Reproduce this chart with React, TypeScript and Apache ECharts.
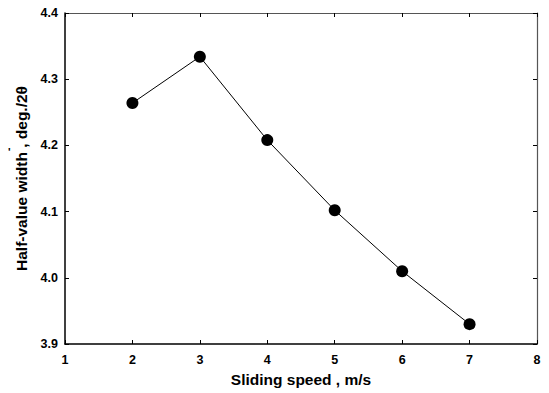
import React, { useEffect, useRef } from "react";
import * as echarts from "echarts";

const speeds = [2, 3, 4, 5, 6, 7];
const halfWidth = [4.264, 4.334, 4.208, 4.102, 4.01, 3.93];
const xTitle = "Sliding speed , m/s";
const yTitle = "Half-value width , deg./2θ";

export default function App() {
  const ref = useRef<HTMLDivElement>(null);
  useEffect(() => {
    const chart = echarts.init(ref.current!, null, { renderer: "svg" });
    const font = "'Liberation Sans', Arial, sans-serif";
    const axisCommon = {
      type: "value" as const,
      interval: 1,
      axisLine: { show: true, lineStyle: { color: "#000", width: 1.5 } },
      axisTick: { show: true, inside: true, length: 4, lineStyle: { color: "#000", width: 1 } },
      splitLine: { show: false },
    };
    chart.setOption({
      animation: false,
      backgroundColor: "#fff",
      grid: { left: 65, right: 12, top: 13, bottom: 49, containLabel: false },
      xAxis: [
        {
          ...axisCommon,
          min: 1,
          max: 8,
          position: "bottom",
          name: xTitle,
          nameLocation: "middle",
          nameGap: 27,
          nameTextStyle: { fontFamily: font, fontWeight: "bold", fontSize: 15.5, color: "#000" },
          axisLabel: { fontFamily: font, fontWeight: "bold", fontSize: 12.5, color: "#000", margin: 9 },
        },
        {
          ...axisCommon,
          min: 1,
          max: 8,
          position: "top",
          axisLine: { show: true, lineStyle: { color: "#555", width: 1.2 } },
          axisLabel: { show: false },
        },
      ],
      yAxis: [
        {
          ...axisCommon,
          interval: 0.1,
          min: 3.9,
          max: 4.4,
          position: "left",
          name: yTitle,
          nameLocation: "middle",
          nameGap: 35,
          nameTextStyle: { fontFamily: font, fontWeight: "bold", fontSize: 15.5, color: "#000" },
          axisLabel: {
            fontFamily: font,
            fontWeight: "bold",
            fontSize: 12.5,
            color: "#000",
            margin: 7,
            formatter: (v: number) => v.toFixed(1),
          },
        },
        {
          ...axisCommon,
          interval: 0.1,
          min: 3.9,
          max: 4.4,
          position: "right",
          axisLine: { show: true, lineStyle: { color: "#555", width: 1.2 } },
          axisLabel: { show: false },
        },
      ],
      graphic: [
        {
          type: "text",
          left: 8,
          top: 146,
          style: { text: "'", fontFamily: font, fontSize: 11, fontWeight: "bold", fill: "#000" },
        },
      ],
      series: [
        {
          type: "line",
          data: speeds.map((s, i) => [s, halfWidth[i]]),
          symbol: "circle",
          symbolSize: 12,
          lineStyle: { color: "#000", width: 1 },
          itemStyle: { color: "#000" },
        },
      ],
    });
    return () => chart.dispose();
  }, []);
  return <div ref={ref} style={{ width: 549, height: 393, position: "absolute", left: 0, top: 0 }} />;
}
